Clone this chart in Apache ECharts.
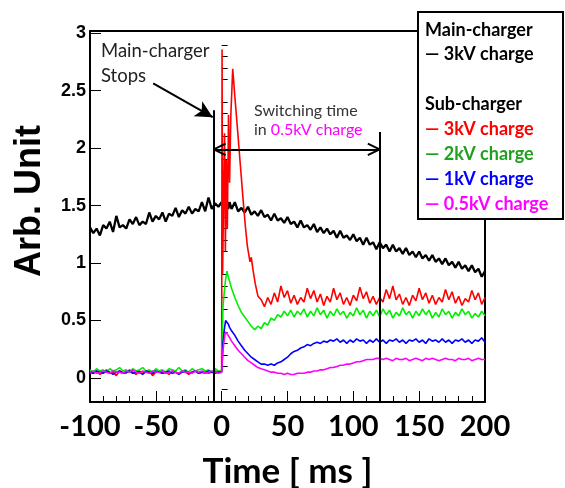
<!DOCTYPE html>
<html>
<head>
<meta charset="utf-8">
<script src="https://cdn.jsdelivr.net/npm/echarts@6/dist/echarts.min.js"></script>
<style>
  html, body { margin: 0; padding: 0; background: #fff; }
  #chart { width: 565px; height: 488px; }
</style>
</head>
<body>
<div id="chart"></div>
<script>
// Sampling times [ms] shared by all traces
const timeMs = [
  -100,-97.5,-95,-92.5,-90,-87.5,-85,-82.5,-80,-77.5,
  -75,-72.5,-70,-67.5,-65,-62.5,-60,-57.5,-55,-52.5,
  -50,-47.5,-45,-42.5,-40,-37.5,-35,-32.5,-30,-27.5,
  -25,-22.5,-20,-17.5,-15,-12.5,-10,-7.5,-5,-2.5,
  0,1,2,3,4,5,6,
  7.5,10,12.5,15,17.5,20,22.5,25,27.5,30,
  32.5,35,37.5,40,42.5,45,47.5,50,52.5,55,
  57.5,60,62.5,65,67.5,70,72.5,75,77.5,80,
  82.5,85,87.5,90,92.5,95,97.5,100,102.5,105,
  107.5,110,112.5,115,117.5,120,122.5,125,127.5,130,
  132.5,135,137.5,140,142.5,145,147.5,150,152.5,155,
  157.5,160,162.5,165,167.5,170,172.5,175,177.5,180,
  182.5,185,187.5,190,192.5,195,197.5,200
];

// Main-charger, 3 kV
const mainCharge3kV = [
  1.31,1.26,1.30,1.24,1.33,1.30,1.36,1.27,1.41,1.31,
  1.33,1.30,1.38,1.34,1.40,1.33,1.36,1.34,1.44,1.36,
  1.41,1.38,1.44,1.36,1.43,1.41,1.48,1.40,1.46,1.43,
  1.49,1.43,1.47,1.45,1.53,1.45,1.57,1.47,1.52,1.49,
  1.53,1.47,1.55,1.48,1.54,1.47,1.53,
  1.47,1.53,1.45,1.48,1.44,1.49,1.42,1.45,1.41,1.46,
  1.40,1.42,1.37,1.43,1.37,1.39,1.35,1.40,1.34,1.36,
  1.31,1.37,1.31,1.33,1.29,1.34,1.27,1.31,1.26,1.30,
  1.25,1.28,1.22,1.28,1.22,1.24,1.20,1.25,1.19,1.22,
  1.16,1.22,1.16,1.18,1.12,1.18,1.13,1.16,1.10,1.16,
  1.10,1.13,1.08,1.13,1.07,1.10,1.05,1.10,1.04,1.07,
  1.02,1.07,1.01,1.04,0.99,1.04,0.98,1.01,0.96,1.01,
  0.95,0.98,0.93,0.98,0.92,0.95,0.88,0.93
];

// Sub-charger, 3 kV (the 0-28 ms burst is sampled separately below)
const subCharge3kV = [
  0.05,0.04,0.06,0.03,0.05,0.07,0.04,0.05,0.02,0.06,
  0.05,0.04,0.07,0.05,0.03,0.06,0.04,0.05,0.06,0.02,
  0.05,0.06,0.04,0.05,0.03,0.06,0.05,0.04,0.06,0.05,
  0.03,0.05,0.06,0.04,0.05,0.06,0.04,0.05,0.06,0.05,
  null,null,null,null,null,null,null,
  null,null,null,null,null,null,null,null,null,0.68,
  0.62,0.70,0.64,0.74,0.66,0.80,0.70,0.76,0.65,0.72,
  0.64,0.70,0.66,0.78,0.69,0.76,0.66,0.73,0.63,0.71,
  0.66,0.78,0.68,0.74,0.64,0.70,0.63,0.72,0.67,0.79,
  0.69,0.75,0.65,0.71,0.64,0.70,0.66,0.77,0.69,0.80,
  0.68,0.73,0.64,0.70,0.63,0.72,0.67,0.78,0.68,0.74,
  0.65,0.72,0.64,0.70,0.66,0.77,0.68,0.75,0.65,0.71,
  0.63,0.69,0.66,0.76,0.68,0.74,0.64,0.70
];
const subCharge3kVBurstMs = [0, 0.3, 0.7, 1.5, 2.2, 2.8, 3.5, 4.3, 5.2, 6, 7, 8.4, 10, 12, 14, 16.3, 18, 19.5, 21.5, 22.5, 23.8, 25.5, 27.6];
const subCharge3kVBurst   = [0.06, 2.86, 0.9, 1.6, 2.13, 1.1, 1.9, 1.3, 2.29, 1.7, 2.3, 2.69, 2.45, 2.17, 1.88, 1.55, 1.32, 1.15, 1.01, 1.05, 0.94, 0.82, 0.71];

// Sub-charger, 2 kV
const subCharge2kV = [
  0.07,0.05,0.08,0.06,0.07,0.05,0.08,0.06,0.07,0.09,
  0.06,0.07,0.05,0.08,0.06,0.07,0.09,0.06,0.07,0.05,
  0.08,0.06,0.07,0.05,0.08,0.07,0.06,0.09,0.06,0.07,
  0.05,0.08,0.06,0.07,0.08,0.06,0.07,0.05,0.08,0.06,
  0.06,0.62,0.75,0.86,0.93,0.88,0.84,
  0.78,0.70,0.63,0.57,0.53,0.49,0.45,0.42,0.45,0.43,
  0.48,0.46,0.52,0.50,0.55,0.53,0.58,0.54,0.59,0.53,
  0.58,0.55,0.60,0.53,0.58,0.54,0.61,0.55,0.59,0.52,
  0.58,0.54,0.60,0.55,0.58,0.52,0.57,0.54,0.61,0.55,
  0.59,0.52,0.58,0.54,0.59,0.53,0.60,0.55,0.59,0.52,
  0.57,0.54,0.61,0.55,0.58,0.52,0.58,0.54,0.60,0.55,
  0.59,0.52,0.57,0.53,0.60,0.55,0.58,0.52,0.57,0.54,
  0.60,0.55,0.58,0.52,0.56,0.53,0.58,0.54
];

// Sub-charger, 1 kV
const subCharge1kV = [
  0.05,0.04,0.06,0.05,0.04,0.06,0.05,0.03,0.05,0.06,
  0.04,0.05,0.06,0.04,0.05,0.05,0.03,0.06,0.05,0.04,
  0.06,0.05,0.04,0.05,0.06,0.04,0.05,0.03,0.05,0.06,
  0.04,0.05,0.06,0.04,0.05,0.04,0.06,0.05,0.04,0.05,
  0.05,0.30,0.42,0.50,0.50,0.47,0.44,
  0.41,0.37,0.32,0.28,0.24,0.21,0.18,0.16,0.14,0.12,
  0.12,0.11,0.12,0.11,0.13,0.14,0.16,0.18,0.21,0.23,
  0.24,0.26,0.27,0.29,0.28,0.30,0.31,0.30,0.32,0.31,
  0.33,0.32,0.34,0.31,0.33,0.30,0.33,0.31,0.34,0.32,
  0.33,0.30,0.33,0.31,0.34,0.31,0.33,0.30,0.33,0.32,
  0.34,0.31,0.33,0.30,0.33,0.32,0.34,0.31,0.33,0.30,
  0.34,0.32,0.33,0.31,0.34,0.31,0.33,0.30,0.33,0.32,
  0.34,0.31,0.33,0.30,0.33,0.32,0.35,0.31
];

// Sub-charger, 0.5 kV
const subCharge05kV = [
  0.05,0.06,0.04,0.05,0.06,0.05,0.04,0.06,0.05,0.05,
  0.04,0.06,0.05,0.07,0.05,0.04,0.06,0.05,0.04,0.06,
  0.05,0.05,0.06,0.04,0.05,0.06,0.05,0.04,0.06,0.05,
  0.05,0.04,0.06,0.05,0.06,0.04,0.05,0.06,0.05,0.04,
  0.05,0.24,0.34,0.40,0.40,0.37,0.35,
  0.32,0.28,0.24,0.21,0.18,0.15,0.13,0.11,0.09,0.08,
  0.07,0.06,0.05,0.05,0.04,0.04,0.03,0.04,0.03,0.03,
  0.04,0.04,0.04,0.05,0.05,0.06,0.06,0.07,0.07,0.08,
  0.09,0.09,0.10,0.11,0.11,0.12,0.12,0.13,0.14,0.14,
  0.15,0.16,0.16,0.16,0.17,0.17,0.16,0.17,0.16,0.15,
  0.17,0.16,0.16,0.17,0.15,0.16,0.17,0.16,0.15,0.17,
  0.16,0.17,0.16,0.15,0.16,0.17,0.16,0.16,0.15,0.17,
  0.16,0.16,0.17,0.15,0.16,0.17,0.16,0.16
];

// Axis ticks
const xTickStep = 50;
const yMajorTicks = [0, 0.5, 1, 1.5, 2, 2.5, 3];
const yMinorTicks = [-0.2,-0.1,0.1,0.2,0.3,0.4,0.6,0.7,0.8,0.9,1.1,1.2,1.3,1.4,1.6,1.7,1.8,1.9,
                     2.1,2.2,2.3,2.4,2.6,2.7,2.8,2.9];

// Legend text
const legendMainHeader = 'Main-charger';
const legendSubHeader = 'Sub-charger';
const traceNames = ['3kV charge', '3kV charge', '2kV charge', '1kV charge', '0.5kV charge'];
const traceColors = ['#000000', '#ff0000', '#00ee00', '#0000ff', '#ff00ff'];
const traceWidths = [2.3, 1.6, 1.6, 1.6, 1.6];
const legendTextColors = ['#000000', '#ff0000', '#1fa01f', '#0000ff', '#ff00ff'];

// Annotation geometry in data units
const stopTimeMs = -6;
const switchEndMs = 120;

function toPoints(values, extraT, extraV) {
  const pts = [];
  timeMs.forEach((t, i) => { if (values[i] !== null) pts.push([t, values[i]]); });
  if (extraT) extraT.forEach((t, i) => pts.push([t, extraV[i]]));
  pts.sort((a, b) => a[0] - b[0]);
  return pts;
}

const traces = [
  toPoints(mainCharge3kV),
  toPoints(subCharge3kV, subCharge3kVBurstMs, subCharge3kVBurst),
  toPoints(subCharge2kV),
  toPoints(subCharge1kV),
  toPoints(subCharge05kV)
];

const seg = (a, b, endSymbol, endSize) => [
  { coord: a, symbol: 'none' },
  endSymbol ? { coord: b, symbol: endSymbol, symbolSize: endSize } : { coord: b, symbol: 'none' }
];

const annotationLines = [
  seg([stopTimeMs, 2.33], [stopTimeMs, -0.21]),
  seg([switchEndMs, 2.14], [switchEndMs, -0.21]),
  seg([stopTimeMs, 1.99], [switchEndMs, 1.99]),
  seg([stopTimeMs, 1.99], [stopTimeMs + 9, 2.04]),
  seg([stopTimeMs, 1.99], [stopTimeMs + 9, 1.94]),
  seg([switchEndMs, 1.99], [switchEndMs - 9, 2.04]),
  seg([switchEndMs, 1.99], [switchEndMs - 9, 1.94]),
  seg([-52, 2.565], [-6.8, 2.27], 'arrow', [13, 17])
];

const series = traces.map((pts, i) => ({
  type: 'line',
  name: traceNames[i],
  data: pts,
  showSymbol: false,
  symbol: 'none',
  lineStyle: { color: traceColors[i], width: traceWidths[i] },
  itemStyle: { color: traceColors[i] },
  animation: false,
  silent: true,
  z: 2 + i
}));
series[0].markLine = {
  silent: true,
  animation: false,
  symbol: ['none', 'none'],
  label: { show: false },
  lineStyle: { color: '#000', width: 2, type: 'solid' },
  emphasis: { disabled: true },
  data: annotationLines,
  z: 10
};

const labelFont = { fontFamily: 'Lato', fontWeight: 'bold' };

const chart = echarts.init(document.getElementById('chart'), null, { renderer: 'canvas' });

// Legend box drawn on top of the frame corner
const legendX = 425;
const legendRows = [
  { text: legendMainHeader, color: '#000', y: 30 },
  { text: '\u2014 ' + traceNames[0], color: legendTextColors[0], y: 54 },
  { text: legendSubHeader, color: '#000', y: 104 },
  { text: '\u2014 ' + traceNames[1], color: legendTextColors[1], y: 129 },
  { text: '\u2014 ' + traceNames[2], color: legendTextColors[2], y: 154 },
  { text: '\u2014 ' + traceNames[3], color: legendTextColors[3], y: 179 },
  { text: '\u2014 ' + traceNames[4], color: legendTextColors[4], y: 204 }
];

const plainText = (text, x, y, size, color) => ({
  type: 'text', z: 50,
  style: { text: text, x: x, y: y, fill: color, font: size + 'px Lato',
           align: 'left', verticalAlign: 'middle', textAlign: 'left', textVerticalAlign: 'middle' }
});

const graphic = [
  {
    type: 'rect', z: 100,
    shape: { x: 418, y: 12, width: 145, height: 207 },
    style: { fill: '#fff', stroke: '#000', lineWidth: 2 }
  },
  ...legendRows.map(r => ({
    type: 'text', z: 101,
    style: {
      text: r.text, x: legendX, y: r.y, fill: r.color,
      font: 'bold 18px Lato', align: 'left', verticalAlign: 'middle',
      textAlign: 'left', textVerticalAlign: 'middle'
    }
  })),
  plainText('Main-charger', 101, 51, 18.5, '#222'),
  plainText('Stops', 101, 76, 18.5, '#222'),
  plainText('Switching time', 254, 111, 16, '#333'),
  {
    type: 'text', z: 50,
    style: {
      text: '{a|in }{b|0.5kV charge}', x: 254, y: 130,
      align: 'left', verticalAlign: 'middle', textAlign: 'left', textVerticalAlign: 'middle',
      rich: {
        a: { fill: '#333', color: '#333', fontFamily: 'Lato', fontSize: 16 },
        b: { fill: '#ff00ff', color: '#ff00ff', fontFamily: 'Lato', fontSize: 16 }
      }
    }
  }
];

chart.setOption({
  backgroundColor: '#fff',
  animation: false,
  grid: { left: 90, right: 80, top: 31, bottom: 86, containLabel: false, outerBoundsMode: 'none' },
  xAxis: [
    {
      type: 'value', min: -100, max: 200, interval: xTickStep, position: 'bottom',
      axisLine: { show: true, onZero: false, lineStyle: { color: '#000', width: 2 } },
      axisTick: { show: true, inside: true, length: 11, lineStyle: { color: '#000', width: 1 } },
      minorTick: { show: true, splitNumber: 5, length: 6, lineStyle: { color: '#000', width: 1 } },
      splitLine: { show: false },
      axisLabel: Object.assign({ fontSize: 29, color: '#000', margin: 10 }, labelFont),
      name: 'Time [ ms ]', nameLocation: 'middle', nameGap: 52,
      nameTextStyle: Object.assign({ fontSize: 35, color: '#000' }, labelFont)
    },
    {
      type: 'value', min: -100, max: 200, position: 'top',
      axisLine: { show: true, onZero: false, lineStyle: { color: '#000', width: 2 } },
      axisTick: { show: false }, axisLabel: { show: false }, splitLine: { show: false }
    }
  ],
  yAxis: [
    {
      type: 'value', min: -0.21, max: 3.02, position: 'left',
      axisLine: { show: true, onZero: false, lineStyle: { color: '#000', width: 2 } },
      axisTick: { show: true, inside: true, length: 11, customValues: yMajorTicks, lineStyle: { color: '#000', width: 1 } },
      axisLabel: { customValues: yMajorTicks, fontFamily: 'Liberation Sans', fontWeight: 'bold', fontSize: 18, color: '#000', margin: 4 },
      splitLine: { show: false },
      name: 'Arb. Unit', nameLocation: 'middle', nameRotate: 90, nameGap: 42,
      nameTextStyle: { fontFamily: 'Liberation Sans', fontWeight: 'bold', fontSize: 36, color: '#000', padding: [0, 0, 0, 31] }
    },
    {
      type: 'value', min: -0.21, max: 3.02, position: 'left', offset: 0,
      axisLine: { show: false },
      axisTick: { show: true, inside: true, length: 6, customValues: yMinorTicks, lineStyle: { color: '#000', width: 1 } },
      axisLabel: { show: false }, splitLine: { show: false }
    },
    {
      type: 'value', min: -0.21, max: 3.02, position: 'right',
      axisLine: { show: true, onZero: false, lineStyle: { color: '#000', width: 2 } },
      axisTick: { show: false }, axisLabel: { show: false }, splitLine: { show: false }
    }
  ],
  series: series,
  graphic: graphic
});
</script>
</body>
</html>
